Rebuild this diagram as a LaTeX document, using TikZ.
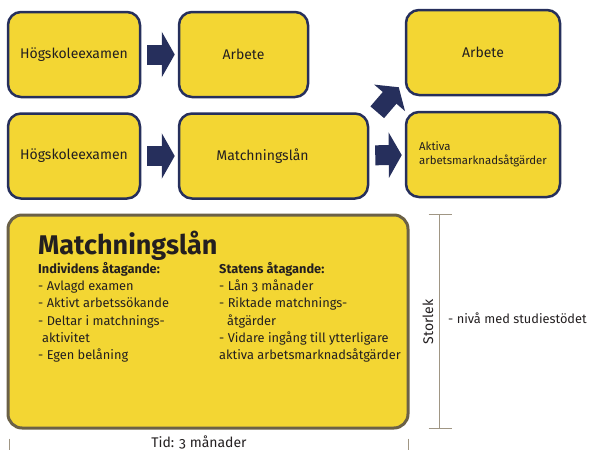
\documentclass[tikz,border=0pt]{standalone}
\usepackage{fontspec}
\setmainfont{Fira Sans}[Numbers=OldStyle]
\usetikzlibrary{arrows.meta,positioning}

\definecolor{boxyellow}{HTML}{F3D633}
\definecolor{boxnavy}{HTML}{262F5C}
\definecolor{bigborder}{HTML}{6B6147}
\definecolor{scalegray}{HTML}{A09684}
\definecolor{textdark}{HTML}{231F20}

\begin{document}
\begin{tikzpicture}[x=1pt,y=-1pt,
    every node/.style={text=textdark},
    stepbox/.style={draw=boxnavy, line width=2.5pt, fill=boxyellow, rounded corners=13pt,
        inner sep=0pt, font=\fontsize{14}{16}\selectfont},
    blockarrow/.style={draw=boxnavy, line width=20pt,
        -{Triangle[width=45pt,length=13pt]}, shorten <=6pt, shorten >=3pt},
    bigbox/.style={draw=bigborder, line width=3pt, fill=boxyellow, rounded corners=14pt, inner sep=0pt},
    coltext/.style={anchor=north west, inner sep=0pt, align=left,
        font=\fontsize{12.8}{17.3}\selectfont},
    scaleline/.style={draw=scalegray, line width=1.5pt}]
  \useasboundingbox (0,0) rectangle (595,450);

  % Top row
  \node[stepbox, minimum width=132pt, minimum height=85pt] (hog1) at (74,54.5) {Högskoleexamen};
  \node[stepbox, minimum width=129pt, minimum height=85pt] (arb1) at (243.5,54.5) {Arbete};
  \draw[blockarrow] (hog1) -- (arb1);

  % Second row
  \node[stepbox, minimum width=132pt, minimum height=85pt] (hog2) at (74,156) {Högskoleexamen};
  \node[stepbox, minimum width=189pt, minimum height=85pt] (mlan) at (273.5,156) {\hspace*{-22pt}Matchningslån};
  \draw[blockarrow] (hog2) -- (mlan);

  % Right column
  \node[stepbox, minimum width=154pt, minimum height=85pt] (arb2) at (483,52.5) {Arbete};
  \node[stepbox, minimum width=154pt, minimum height=85pt, align=left,
        font=\fontsize{11.4}{14.5}\selectfont] (aktiva) at (483,154.5)
        {Aktiva\\arbetsmarknadsåtgärder};
  \draw[blockarrow] (mlan) -- (aktiva);
  \coordinate (diag1) at ([shift={(8,0)}]mlan.north east);
  \coordinate (diag2) at ([shift={(-6,-9)}]arb2.south west);
  \draw[blockarrow, line width=18pt, -{Triangle[width=40pt,length=14pt]},
        shorten <=0pt, shorten >=0pt] (diag1) -- (diag2);

  % Matchningslån box
  \node[bigbox, minimum width=400pt, minimum height=213pt] (mbox) at (208,321.5) {};
  \node[anchor=north west, inner sep=0pt, font=\fontsize{27}{30}\selectfont\bfseries] (mtitle) at (38,231) {Matchningslån};
  \node[coltext] (indiv) at (38,262) {\textbf{Individens åtagande:}\\- Avlagd examen\\- Aktivt arbetssökande\\- Deltar i matchnings-\\\hspace*{4pt}aktivitet\\- Egen belåning};
  \node[coltext] (staten) at (219,262) {\textbf{Statens åtagande:}\\- Lån 3 månader\\- Riktade matchnings-\\\hspace*{8pt}åtgärder\\- Vidare ingång till ytterligare\\aktiva arbetsmarknadsåtgärder};

  % Storlek scale
  \coordinate (stop) at ([shift={(30,1)}]mbox.north east);
  \coordinate (sbot) at ([shift={(30,-1)}]mbox.south east);
  \draw[scaleline] (stop) -- (sbot);
  \draw[scaleline] ([xshift=-11pt]stop) -- ([xshift=12pt]stop);
  \draw[scaleline] ([xshift=-11pt]sbot) -- ([xshift=12pt]sbot);
  \node[rotate=90, font=\fontsize{14}{16}\selectfont] (storlek) at (428,322) {Storlek};
  \node[anchor=west, inner sep=0pt, font=\fontsize{12.8}{16}\selectfont] (niva) at (448,318) {- nivå med studiestödet};

  % Tid scale
  \coordinate (tleft) at ([shift={(3,9)}]mbox.south west);
  \coordinate (tright) at ([shift={(-1,9)}]mbox.south east);
  \draw[scaleline] (tleft) -- ++(0,14);
  \draw[scaleline] (tright) -- ++(0,14);
  \node[font=\fontsize{14}{16}\selectfont] (tid) at (199,442) {Tid: 3 månader};
\end{tikzpicture}
\end{document}
